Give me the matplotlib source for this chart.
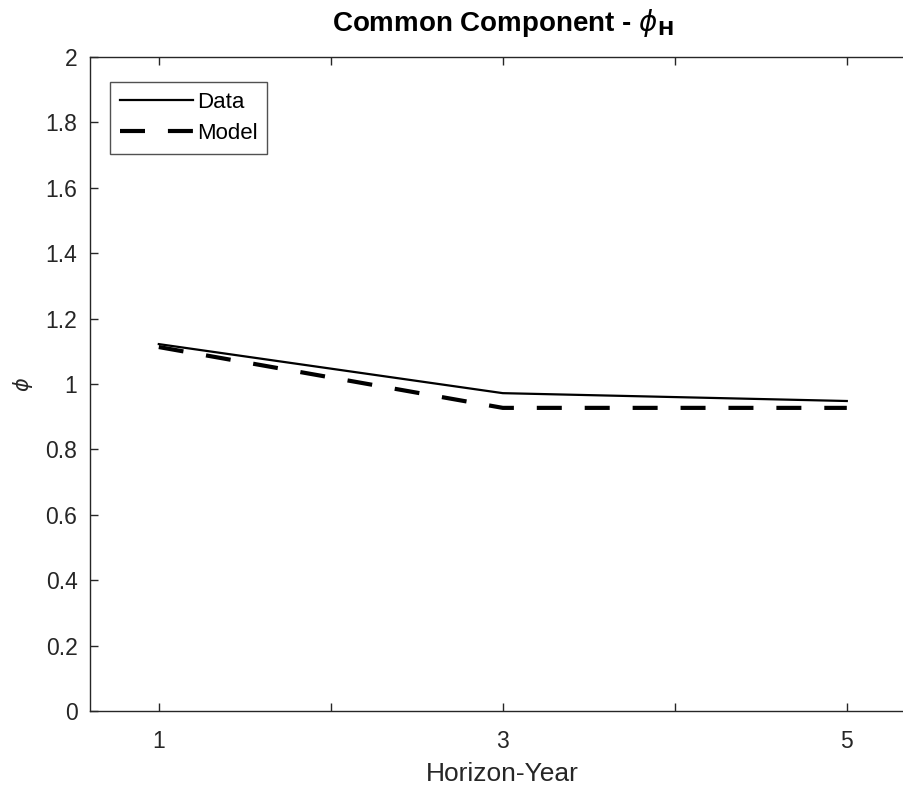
import matplotlib
matplotlib.use("Agg")
import matplotlib.pyplot as plt

# ── Data ─────────────────────────────────────────────────────
horizon     = [1, 3, 5]
phi_data    = [1.122, 0.972, 0.948]
phi_model   = [1.113, 0.927, 0.927]
xtick_pos   = [1, 2, 3, 4, 5]
xtick_lbl   = ["1", "", "3", "", "5"]
ytick_pos   = [0, 0.2, 0.4, 0.6, 0.8, 1, 1.2, 1.4, 1.6, 1.8, 2]
ytick_lbl   = ["0", "0.2", "0.4", "0.6", "0.8", "1", "1.2", "1.4", "1.6", "1.8", "2"]

plt.rcParams["font.family"] = ["Liberation Sans", "DejaVu Sans"]
plt.rcParams["mathtext.fontset"] = "dejavusans"
gray = "#262626"

fig = plt.figure(figsize=(9.04, 7.92), dpi=100)
ax = fig.add_axes([90 / 904, 1 - 711 / 792, 825.6 / 904, 654 / 792])

ax.plot(horizon, phi_data, color="black", lw=1.6, label="Data")
ax.plot(horizon, phi_model, color="black", lw=3.0, dashes=(6, 5.5), label="Model")

ax.set_xlim(0.6, 5.4)
ax.set_ylim(0, 2)
ax.set_xticks(xtick_pos)
ax.set_xticklabels(xtick_lbl)
ax.set_yticks(ytick_pos)
ax.set_yticklabels(ytick_lbl)
ax.tick_params(direction="in", length=6, width=1, colors=gray, labelsize=16.5,
               top=True, right=True)
ax.tick_params(axis="x", pad=14)
ax.tick_params(axis="y", pad=9)
for s in ax.spines.values():
    s.set_color(gray)
    s.set_linewidth(1)

ax.set_xlabel("Horizon-Year", fontsize=19, color=gray, labelpad=6)
ax.set_ylabel(r"$\phi$", fontsize=15, color=gray)
ax.yaxis.set_label_coords(-55 / 825.6, 0.5)
ax.set_title(r"Common Component - $\phi_\mathbf{H}$", fontsize=20, fontweight="bold", pad=19)

leg = ax.legend(loc="upper left", fontsize=16, frameon=True, fancybox=False,
                edgecolor=gray, handlelength=3.3, handletextpad=0.15,
                borderpad=0.45, labelspacing=0.45, borderaxespad=0,
                bbox_to_anchor=(20 / 825.6, 1 - 25 / 654))
leg.get_frame().set_linewidth(1)

fig.savefig("out.png", dpi=100)
